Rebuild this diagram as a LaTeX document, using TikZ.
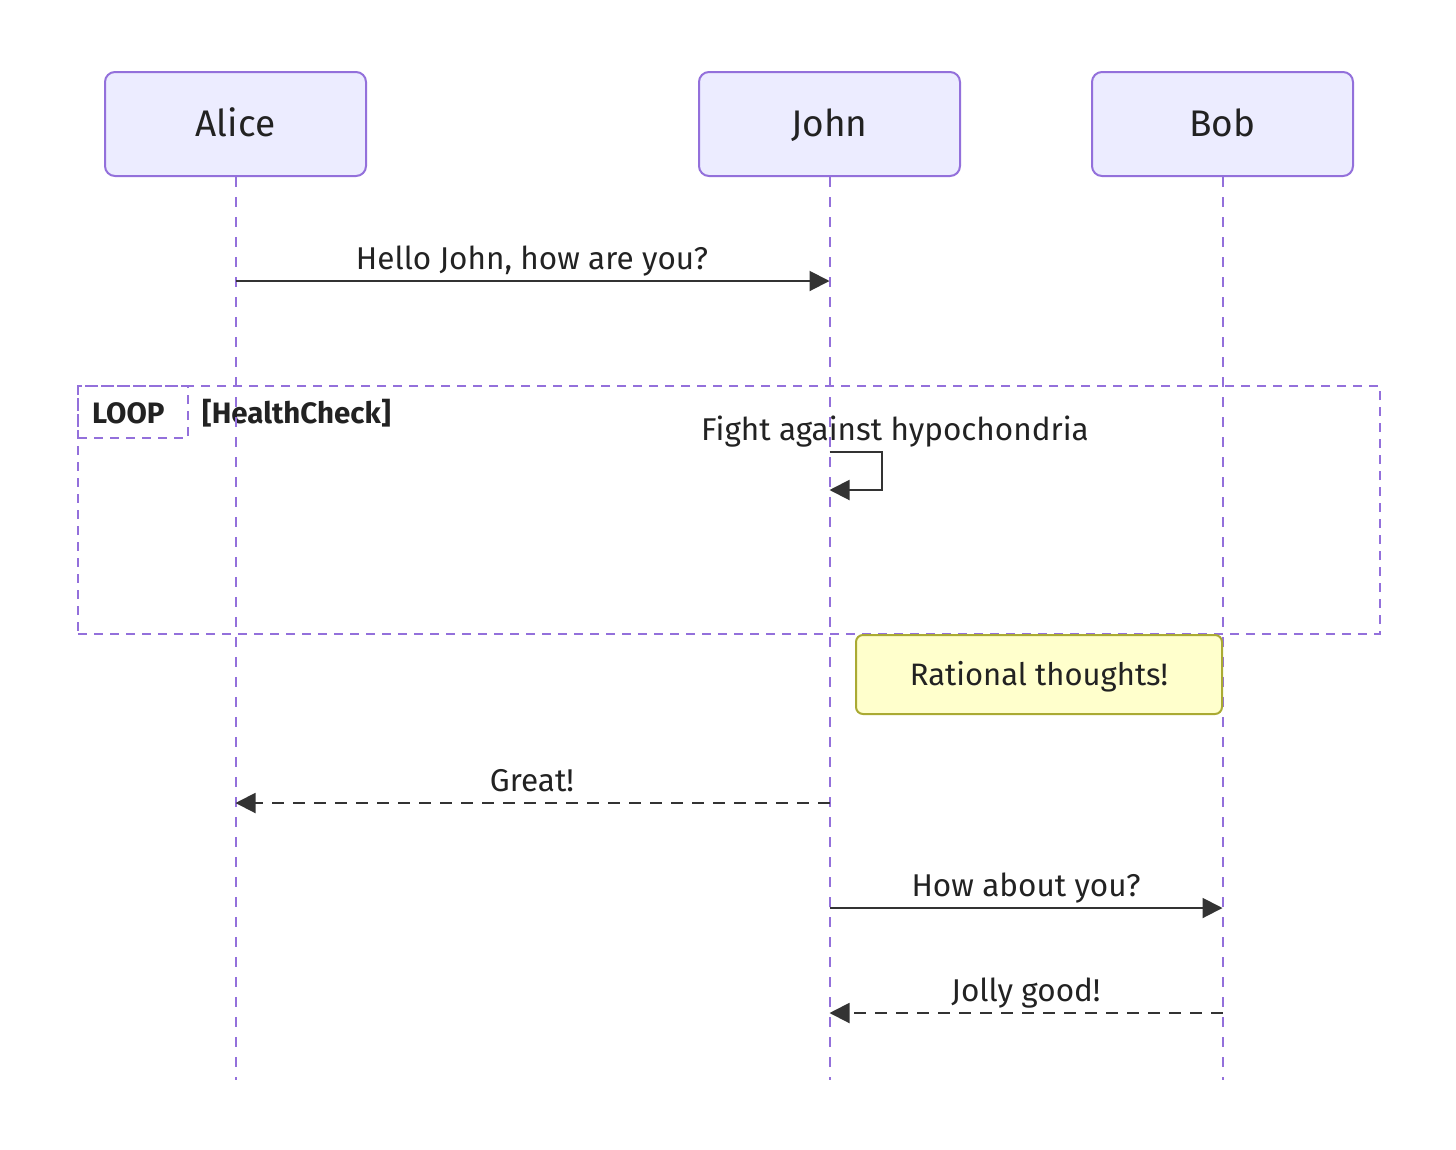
\documentclass[tikz,border=0pt]{standalone}
\usepackage{fontspec}
\setmainfont{Fira Sans}
\usetikzlibrary{arrows.meta}
\definecolor{actfill}{HTML}{ECECFF}
\definecolor{actdraw}{HTML}{9370DB}
\definecolor{ink}{HTML}{333333}
\definecolor{txt}{HTML}{222222}
\definecolor{notefill}{HTML}{FFFFCC}
\definecolor{notedraw}{HTML}{AAAA33}
\tikzset{
  actor/.style={draw=actdraw, fill=actfill, line width=2pt, rounded corners=10pt,
    minimum width=261pt, minimum height=104pt, inner sep=0pt, text=txt,
    text height=25pt, text depth=0pt,
    font=\fontsize{37}{40}\selectfont},
  life/.style={draw=actdraw, line width=2pt, dash pattern=on 10pt off 10pt},
  msg/.style={draw=ink, line width=2pt, -{Triangle[length=20pt,width=20pt]}},
  reply/.style={msg, dash pattern=on 12pt off 9pt},
  lbl/.style={anchor=base, text=txt, inner sep=0pt, font=\fontsize{31.5}{34}\selectfont},
  loopframe/.style={draw=actdraw, line width=2pt, dash pattern=on 9pt off 7pt, inner sep=0pt},
  boldlbl/.style={anchor=base west, text=txt, inner sep=0pt, font=\fontsize{29.5}{32}\selectfont\bfseries},
  notebox/.style={draw=notedraw, fill=notefill, line width=2pt, rounded corners=7pt,
    minimum width=366pt, minimum height=79pt, inner sep=0pt, text=txt,
    text height=21.5pt, text depth=0pt,
    font=\fontsize{31}{34}\selectfont}
}
\begin{document}
\begin{tikzpicture}[x=1pt,y=-1pt]
\useasboundingbox (0,0) rectangle (1456,1149);
% loop frame
\node[loopframe, minimum width=1302pt, minimum height=248pt] (loop) at (729,510) {};
\node[loopframe, minimum width=110pt, minimum height=52pt] (looplab) at (133,412) {};
\node[boldlbl] (looptxt) at (92,423) {LOOP};
\node[boldlbl] (cond) at (202,423) {[HealthCheck]};
% actors
\node[actor] (alice) at (235.5,124) {Alice};
\node[actor] (john) at (829.5,124) {John};
\node[actor] (bob) at (1222.5,124) {Bob};
% lifeline ends
\coordinate (aliceEnd) at (235.5,1080);
\coordinate (johnEnd) at (829.5,1080);
\coordinate (bobEnd) at (1222.5,1080);
\draw[life] (alice.south) -- (aliceEnd);
\draw[life] (john.south) -- (johnEnd);
\draw[life] (bob.south) -- (bobEnd);
% message points
\coordinate (a1) at (235.5,281);
\coordinate (j1) at (829.5,281);
\coordinate (s1) at (829.5,452);
\coordinate (s2) at (829.5,490);
\coordinate (j3) at (829.5,803);
\coordinate (a3) at (235.5,803);
\coordinate (j4) at (829.5,908);
\coordinate (b4) at (1222.5,908);
\coordinate (b5) at (1222.5,1013);
\coordinate (j5) at (829.5,1013);
% messages
\draw[msg] (a1) -- (j1);
\node[lbl] (m1) at (532,269) {Hello John, how are you?};
\draw[msg] (s1) -- (882,452) -- (882,490) -- (s2);
\node[lbl] (m2) at (895,440) {Fight against hypochondria};
% note
\node[notebox] (note) at (1039,674.5) {Rational thoughts!};
\draw[reply] (j3) -- (a3);
\node[lbl] (m3) at (532,791) {Great!};
\draw[msg] (j4) -- (b4);
\node[lbl] (m4) at (1026,896) {How about you?};
\draw[reply] (b5) -- (j5);
\node[lbl] (m5) at (1026,1001) {Jolly good!};
\end{tikzpicture}
\end{document}
